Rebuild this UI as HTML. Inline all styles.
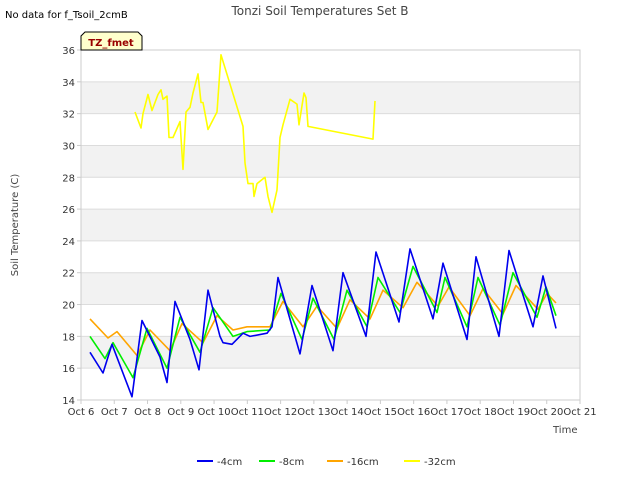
<!DOCTYPE html>
<html><head><meta charset="utf-8"><style>
body{margin:0;background:#fff;font-family:"DejaVu Sans","Liberation Sans",sans-serif}
svg text{font-family:"DejaVu Sans","Liberation Sans",sans-serif}
</style></head><body>
<svg id="c" width="640" height="480">
<text x="5" y="18" font-size="10" fill="#000">No data for f_Tsoil_2cmB</text>
<text x="320" y="15" font-size="12" fill="#444" text-anchor="middle">Tonzi Soil Temperatures Set B</text>
<g id="bands"></g><g id="grid"></g><g id="axes"></g><g id="series"></g>
<text x="18" y="225" font-size="10" fill="#444" text-anchor="middle" transform="rotate(-90 18 225)">Soil Temperature (C)</text>
<text x="553" y="433" font-size="10" fill="#444">Time</text>
<g><path d="M81,50 L81,36 L85,32 L138,32 L142,36 L142,50 Z" fill="#ffffcc" stroke="#000"/><text x="111" y="46" font-size="10" font-weight="bold" fill="#990000" text-anchor="middle">TZ_fmet</text></g>
<g id="legend"></g>
</svg>
<script>
const xTicks=["Oct 6","Oct 7","Oct 8","Oct 9","Oct 10","Oct 11","Oct 12","Oct 13","Oct 14","Oct 15","Oct 16","Oct 17","Oct 18","Oct 19","Oct 20","Oct 21"];
const yTicks=[14,16,18,20,22,24,26,28,30,32,34,36];
const seriesNames=["-4cm","-8cm","-16cm","-32cm"];
const seriesColors=["#0000ee","#00ee00","#ffa500","#ffff00"];
const xPix4=[90,103,112,132,142,160,167,175,190,199,208,220,223,232,243,250,267,272,278,300,312,333,343,366,376,399,410,433,443,467,476,499,509,533,543,556];
const v4=[17.0,15.7,17.5,14.2,19.0,16.7,15.1,20.2,17.8,15.9,20.9,18.0,17.6,17.5,18.2,18.0,18.2,18.6,21.7,16.9,21.2,17.1,22.0,18.0,23.3,18.9,23.5,19.1,22.6,17.8,23.0,18.0,23.4,18.6,21.8,18.5];
const xPix8=[90,105,113,133,147,167,180,200,213,233,247,270,281,302,313,334,347,367,378,400,413,437,445,467,478,500,513,537,546,556];
const v8=[18.0,16.6,17.6,15.4,18.5,16.0,19.2,17.0,19.8,18.0,18.3,18.4,20.7,17.8,20.4,17.8,20.9,18.6,21.7,19.5,22.4,19.5,21.7,18.6,21.7,18.7,22.0,19.2,21.1,19.3];
const xPix16=[90,108,117,137,150,170,182,203,217,233,247,270,283,303,317,337,350,370,383,403,417,438,449,470,483,503,516,538,547,556];
const v16=[19.1,17.9,18.3,16.8,18.4,17.1,18.8,17.6,19.3,18.4,18.6,18.6,20.2,18.6,19.9,18.5,20.3,19.1,20.9,19.8,21.4,19.9,21.1,19.3,21.0,19.4,21.2,19.7,20.7,20.1];
const xPix32=[135,141,143,148,152,158,161,163,167,169,173,180,183,186,190,193,198,201,203,208,217,221,243,245,248,253,254,257,265,268,272,277,280,283,290,297,299,304,306,308,373,375];
const v32=[32.1,31.1,32.0,33.2,32.2,33.2,33.5,32.9,33.1,30.5,30.5,31.5,28.5,32.1,32.4,33.3,34.5,32.7,32.7,31.0,32.1,35.7,31.2,28.9,27.6,27.6,26.8,27.6,28.0,26.8,25.8,27.2,30.5,31.3,32.9,32.6,31.3,33.3,33.0,31.2,30.4,32.8];
const toDay=p=>(p-81)/33.27;
const days=[xPix4.map(toDay),xPix8.map(toDay),xPix16.map(toDay),xPix32.map(toDay)];
const vals=[v4,v8,v16,v32];
const X0=81,X1=580,Y0=400,Y1=50;
const xs=d=>X0+d*(X1-X0)/15;
const ys=v=>Y0-(v-14)*(Y0-Y1)/22;
const NS="http://www.w3.org/2000/svg";
function mk(t,a,p){const e=document.createElementNS(NS,t);for(const k in a)e.setAttribute(k,a[k]);p.appendChild(e);return e;}
const bands=document.getElementById('bands'),grid=document.getElementById('grid'),axes=document.getElementById('axes'),ser=document.getElementById('series'),leg=document.getElementById('legend');
mk('rect',{x:X0,y:Y1,width:X1-X0,height:Y0-Y1,fill:'#fff'},bands);
for(let i=0;i<yTicks.length-1;i++){if(i%2==1){const r=mk('rect',{x:X0,y:ys(yTicks[i+1]),width:X1-X0,height:ys(yTicks[i])-ys(yTicks[i+1]),fill:'#f2f2f2'},bands);

}}
yTicks.forEach(v=>{const l=mk('line',{x1:X0,x2:X1,y1:ys(v),y2:ys(v),stroke:'#dcdcdc'},grid);


const t=mk('text',{x:X0-6,y:ys(v)+4,'font-size':10,fill:'#333','text-anchor':'end'},axes);t.textContent=v;


mk('line',{x1:X0-4,x2:X0,y1:ys(v),y2:ys(v),stroke:'#ccc'},axes);});
mk('rect',{x:X0,y:Y1,width:X1-X0,height:Y0-Y1,fill:'none',stroke:'#ccc'},axes);
xTicks.forEach((s,i)=>{const t=mk('text',{x:xs(i),y:415,'font-size':10,fill:'#333','text-anchor':'middle'},axes);t.textContent=s;


mk('line',{x1:xs(i),x2:xs(i),y1:Y0,y2:Y0+4,stroke:'#ccc'},axes);});
[3,2,1,0].forEach(k=>{const pts=days[k].map((d,i)=>xs(d).toFixed(1)+','+ys(vals[k][i]).toFixed(1)).join(' ');
const p=mk('polyline',{points:pts,fill:'none',stroke:seriesColors[k],'stroke-width':1.6,'stroke-linejoin':'round'},ser);

});
const lx=[197,259,327,404];
seriesNames.forEach((n,k)=>{const g=mk('g',{},leg);


mk('line',{x1:lx[k],x2:lx[k]+16,y1:461,y2:461,stroke:seriesColors[k],'stroke-width':2},g);
const t=mk('text',{x:lx[k]+20,y:465,'font-size':10,fill:'#333'},g);t.textContent=n;});
</script>
</body></html>
